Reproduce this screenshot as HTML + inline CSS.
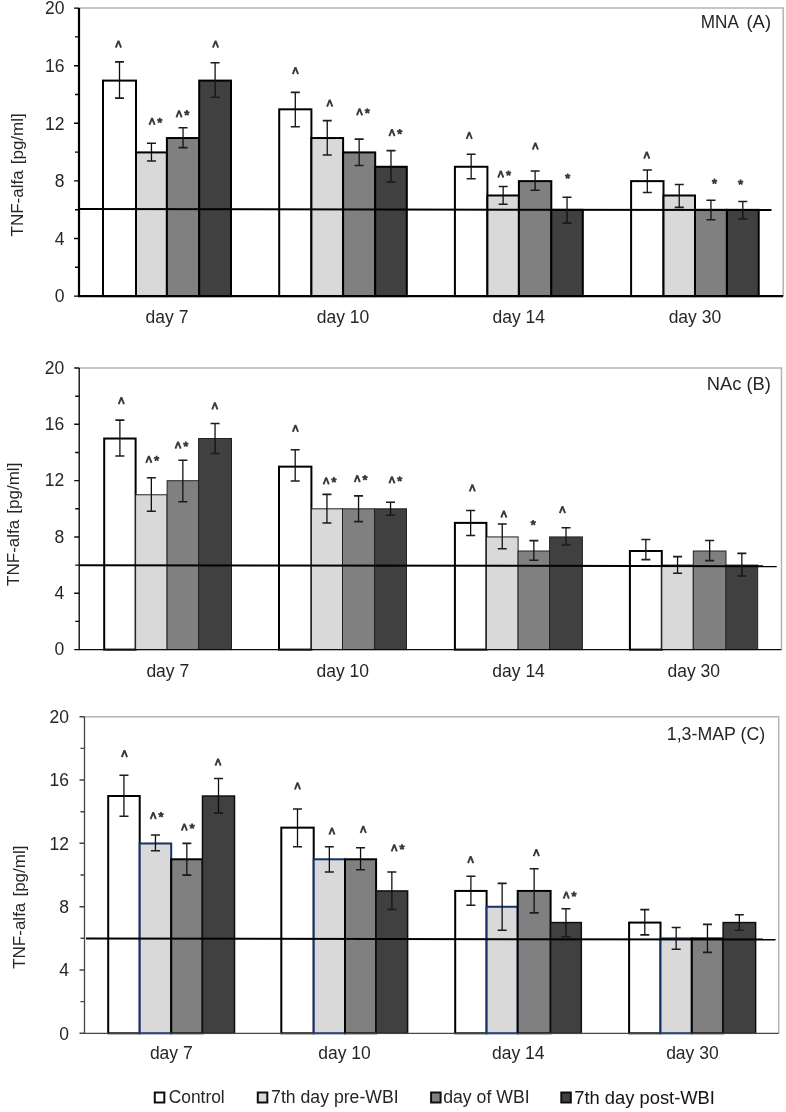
<!DOCTYPE html>
<html><head><meta charset="utf-8"><title>TNF-alfa chart</title>
<style>
html,body{margin:0;padding:0;background:#fff;}
body{width:786px;height:1112px;overflow:hidden;}
svg{display:block;}
.t{font-family:"Liberation Sans", sans-serif;font-size:17.5px;fill:#262626;}
</style></head><body>
<svg width="786" height="1112" viewBox="0 0 786 1112">
<defs><filter id="bl" x="0" y="0" width="100%" height="100%"><feGaussianBlur stdDeviation="0.4"/></filter></defs>
<rect width="786" height="1112" fill="#fff"/>
<g filter="url(#bl)">
<path d="M79.0 8.1H783.2V296.1" fill="none" stroke="#b4b4b4" stroke-width="1.5"/>
<rect x="103.00" y="80.60" width="33.00" height="215.50" fill="#ffffff" stroke="#000" stroke-width="2"/>
<rect x="136.00" y="152.41" width="30.90" height="143.70" fill="#d9d9d9" stroke="#000" stroke-width="2"/>
<rect x="166.90" y="138.04" width="32.30" height="158.06" fill="#808080" stroke="#000" stroke-width="2"/>
<rect x="199.20" y="80.60" width="31.80" height="215.50" fill="#404040" stroke="#000" stroke-width="2"/>
<rect x="279.20" y="109.32" width="32.20" height="186.78" fill="#ffffff" stroke="#000" stroke-width="2"/>
<rect x="311.40" y="138.04" width="31.70" height="158.06" fill="#d9d9d9" stroke="#000" stroke-width="2"/>
<rect x="343.10" y="152.41" width="32.10" height="143.70" fill="#808080" stroke="#000" stroke-width="2"/>
<rect x="375.20" y="166.77" width="31.60" height="129.33" fill="#404040" stroke="#000" stroke-width="2"/>
<rect x="454.90" y="166.77" width="32.50" height="129.33" fill="#ffffff" stroke="#000" stroke-width="2"/>
<rect x="487.40" y="195.49" width="31.50" height="100.61" fill="#d9d9d9" stroke="#000" stroke-width="2"/>
<rect x="518.90" y="181.13" width="32.40" height="114.97" fill="#808080" stroke="#000" stroke-width="2"/>
<rect x="551.30" y="209.85" width="31.50" height="86.25" fill="#404040" stroke="#000" stroke-width="2"/>
<rect x="631.10" y="181.13" width="32.40" height="114.97" fill="#ffffff" stroke="#000" stroke-width="2"/>
<rect x="663.50" y="195.49" width="31.50" height="100.61" fill="#d9d9d9" stroke="#000" stroke-width="2"/>
<rect x="695.00" y="209.85" width="31.90" height="86.25" fill="#808080" stroke="#000" stroke-width="2"/>
<rect x="726.90" y="209.85" width="31.80" height="86.25" fill="#404040" stroke="#000" stroke-width="2"/>
<path d="M79.0 209.10L771.5 210.10" stroke="#000" stroke-width="2"/>
<path d="M119.50 61.9V98.1" stroke="#111" stroke-width="1.3" fill="none"/><path d="M115.00 61.9H124.00M115.00 98.1H124.00" stroke="#1a1a1a" stroke-width="1.6" fill="none"/>
<path d="M151.45 143.3V161.0" stroke="#111" stroke-width="1.3" fill="none"/><path d="M146.95 143.3H155.95M146.95 161.0H155.95" stroke="#1a1a1a" stroke-width="1.6" fill="none"/>
<path d="M183.05 127.7V147.6" stroke="#111" stroke-width="1.3" fill="none"/><path d="M178.55 127.7H187.55M178.55 147.6H187.55" stroke="#1a1a1a" stroke-width="1.6" fill="none"/>
<path d="M215.10 62.8V97.2" stroke="#111" stroke-width="1.3" fill="none"/><path d="M210.60 62.8H219.60M210.60 97.2H219.60" stroke="#1a1a1a" stroke-width="1.6" fill="none"/>
<path d="M295.30 92.4V126.7" stroke="#111" stroke-width="1.3" fill="none"/><path d="M290.80 92.4H299.80M290.80 126.7H299.80" stroke="#1a1a1a" stroke-width="1.6" fill="none"/>
<path d="M327.25 120.6V155.0" stroke="#111" stroke-width="1.3" fill="none"/><path d="M322.75 120.6H331.75M322.75 155.0H331.75" stroke="#1a1a1a" stroke-width="1.6" fill="none"/>
<path d="M359.15 139.1V165.5" stroke="#111" stroke-width="1.3" fill="none"/><path d="M354.65 139.1H363.65M354.65 165.5H363.65" stroke="#1a1a1a" stroke-width="1.6" fill="none"/>
<path d="M391.00 150.6V182.0" stroke="#111" stroke-width="1.3" fill="none"/><path d="M386.50 150.6H395.50M386.50 182.0H395.50" stroke="#1a1a1a" stroke-width="1.6" fill="none"/>
<path d="M471.15 154.2V178.8" stroke="#111" stroke-width="1.3" fill="none"/><path d="M466.65 154.2H475.65M466.65 178.8H475.65" stroke="#1a1a1a" stroke-width="1.6" fill="none"/>
<path d="M503.15 186.5V204.2" stroke="#111" stroke-width="1.3" fill="none"/><path d="M498.65 186.5H507.65M498.65 204.2H507.65" stroke="#1a1a1a" stroke-width="1.6" fill="none"/>
<path d="M535.10 171.0V190.3" stroke="#111" stroke-width="1.3" fill="none"/><path d="M530.60 171.0H539.60M530.60 190.3H539.60" stroke="#1a1a1a" stroke-width="1.6" fill="none"/>
<path d="M567.05 197.3V223.1" stroke="#111" stroke-width="1.3" fill="none"/><path d="M562.55 197.3H571.55M562.55 223.1H571.55" stroke="#1a1a1a" stroke-width="1.6" fill="none"/>
<path d="M647.30 170.0V192.5" stroke="#111" stroke-width="1.3" fill="none"/><path d="M642.80 170.0H651.80M642.80 192.5H651.80" stroke="#1a1a1a" stroke-width="1.6" fill="none"/>
<path d="M679.25 184.5V207.4" stroke="#111" stroke-width="1.3" fill="none"/><path d="M674.75 184.5H683.75M674.75 207.4H683.75" stroke="#1a1a1a" stroke-width="1.6" fill="none"/>
<path d="M710.95 200.2V219.8" stroke="#111" stroke-width="1.3" fill="none"/><path d="M706.45 200.2H715.45M706.45 219.8H715.45" stroke="#1a1a1a" stroke-width="1.6" fill="none"/>
<path d="M742.80 201.5V218.9" stroke="#111" stroke-width="1.3" fill="none"/><path d="M738.30 201.5H747.30M738.30 218.9H747.30" stroke="#1a1a1a" stroke-width="1.6" fill="none"/>
<path d="M79.0 8.1V296.1H783.2" fill="none" stroke="#000" stroke-width="2.2"/>
<path d="M74.0 296.1H79.0M75.0 267.3H79.0M74.0 238.5H79.0M75.0 209.7H79.0M74.0 180.9H79.0M75.0 152.1H79.0M74.0 123.3H79.0M75.0 94.5H79.0M74.0 65.7H79.0M75.0 36.9H79.0M74.0 8.1H79.0" stroke="#000" stroke-width="1.4"/>
<text x="64.4" y="302.4" text-anchor="end" class="t">0</text>
<text x="64.4" y="244.8" text-anchor="end" class="t">4</text>
<text x="64.4" y="187.2" text-anchor="end" class="t">8</text>
<text x="64.4" y="129.6" text-anchor="end" class="t">12</text>
<text x="64.4" y="72.0" text-anchor="end" class="t">16</text>
<text x="64.4" y="14.4" text-anchor="end" class="t">20</text>
<text x="167.0" y="323.4" text-anchor="middle" class="t">day 7</text>
<text x="343.0" y="323.4" text-anchor="middle" class="t">day 10</text>
<text x="518.8" y="323.4" text-anchor="middle" class="t">day 14</text>
<text x="694.9" y="323.4" text-anchor="middle" class="t">day 30</text>
<text id="tA1" x="700.80" textLength="38.06" lengthAdjust="spacingAndGlyphs" y="27.7" class="t" style="font-size:17.5px">MNA</text>
<text id="tA2" x="746.50" textLength="24.50" lengthAdjust="spacingAndGlyphs" y="27.7" class="t" style="font-size:18px">(A)</text>
<text transform="translate(23.4 236.5) rotate(-90)" class="t" style="font-size:17px">TNF-alfa <tspan dx="1.4">[pg/ml]</tspan></text>
<path d="M115.80 47.60L118.45 40.80L121.10 47.60" fill="none" stroke="#3a3a3a" stroke-width="1.9" stroke-linejoin="bevel"/>
<path d="M149.40 124.90L152.05 118.10L154.70 124.90" fill="none" stroke="#3a3a3a" stroke-width="1.9" stroke-linejoin="bevel"/>
<path d="M159.80 120.50L159.80 117.70M159.80 120.50L162.46 119.63M159.80 120.50L161.45 122.77M159.80 120.50L158.15 122.77M159.80 120.50L157.14 119.63" stroke="#3a3a3a" stroke-width="1.8" stroke-linecap="butt" fill="none"/>
<path d="M176.40 117.30L179.05 110.50L181.70 117.30" fill="none" stroke="#3a3a3a" stroke-width="1.9" stroke-linejoin="bevel"/>
<path d="M186.80 112.90L186.80 110.10M186.80 112.90L189.46 112.03M186.80 112.90L188.45 115.17M186.80 112.90L185.15 115.17M186.80 112.90L184.14 112.03" stroke="#3a3a3a" stroke-width="1.8" stroke-linecap="butt" fill="none"/>
<path d="M212.90 47.60L215.55 40.80L218.20 47.60" fill="none" stroke="#3a3a3a" stroke-width="1.9" stroke-linejoin="bevel"/>
<path d="M292.80 74.20L295.45 67.40L298.10 74.20" fill="none" stroke="#3a3a3a" stroke-width="1.9" stroke-linejoin="bevel"/>
<path d="M327.10 106.60L329.75 99.80L332.40 106.60" fill="none" stroke="#3a3a3a" stroke-width="1.9" stroke-linejoin="bevel"/>
<path d="M356.90 115.40L359.55 108.60L362.20 115.40" fill="none" stroke="#3a3a3a" stroke-width="1.9" stroke-linejoin="bevel"/>
<path d="M367.30 111.00L367.30 108.20M367.30 111.00L369.96 110.13M367.30 111.00L368.95 113.27M367.30 111.00L365.65 113.27M367.30 111.00L364.64 110.13" stroke="#3a3a3a" stroke-width="1.8" stroke-linecap="butt" fill="none"/>
<path d="M389.30 136.20L391.95 129.40L394.60 136.20" fill="none" stroke="#3a3a3a" stroke-width="1.9" stroke-linejoin="bevel"/>
<path d="M399.70 131.80L399.70 129.00M399.70 131.80L402.36 130.93M399.70 131.80L401.35 134.07M399.70 131.80L398.05 134.07M399.70 131.80L397.04 130.93" stroke="#3a3a3a" stroke-width="1.8" stroke-linecap="butt" fill="none"/>
<path d="M466.60 139.00L469.25 132.20L471.90 139.00" fill="none" stroke="#3a3a3a" stroke-width="1.9" stroke-linejoin="bevel"/>
<path d="M498.10 177.60L500.75 170.80L503.40 177.60" fill="none" stroke="#3a3a3a" stroke-width="1.9" stroke-linejoin="bevel"/>
<path d="M508.50 173.20L508.50 170.40M508.50 173.20L511.16 172.33M508.50 173.20L510.15 175.47M508.50 173.20L506.85 175.47M508.50 173.20L505.84 172.33" stroke="#3a3a3a" stroke-width="1.8" stroke-linecap="butt" fill="none"/>
<path d="M532.70 149.60L535.35 142.80L538.00 149.60" fill="none" stroke="#3a3a3a" stroke-width="1.9" stroke-linejoin="bevel"/>
<path d="M567.70 176.20L567.70 173.40M567.70 176.20L570.36 175.33M567.70 176.20L569.35 178.47M567.70 176.20L566.05 178.47M567.70 176.20L565.04 175.33" stroke="#3a3a3a" stroke-width="1.8" stroke-linecap="butt" fill="none"/>
<path d="M644.10 158.60L646.75 151.80L649.40 158.60" fill="none" stroke="#3a3a3a" stroke-width="1.9" stroke-linejoin="bevel"/>
<path d="M714.50 181.40L714.50 178.60M714.50 181.40L717.16 180.53M714.50 181.40L716.15 183.67M714.50 181.40L712.85 183.67M714.50 181.40L711.84 180.53" stroke="#3a3a3a" stroke-width="1.8" stroke-linecap="butt" fill="none"/>
<path d="M740.60 182.20L740.60 179.40M740.60 182.20L743.26 181.33M740.60 182.20L742.25 184.47M740.60 182.20L738.95 184.47M740.60 182.20L737.94 181.33" stroke="#3a3a3a" stroke-width="1.8" stroke-linecap="butt" fill="none"/>
<path d="M79.2 368.0H781.5V649.6" fill="none" stroke="#b4b4b4" stroke-width="1.5"/>
<rect x="104.20" y="438.53" width="31.40" height="211.07" fill="#ffffff" stroke="#000" stroke-width="2"/>
<rect x="135.60" y="494.77" width="31.50" height="154.83" fill="#d9d9d9" stroke="#222" stroke-width="1"/>
<rect x="167.10" y="480.71" width="31.50" height="168.89" fill="#808080" stroke="#222" stroke-width="1"/>
<rect x="198.60" y="438.53" width="32.90" height="211.07" fill="#404040" stroke="#222" stroke-width="1"/>
<rect x="279.00" y="466.65" width="32.40" height="182.95" fill="#ffffff" stroke="#000" stroke-width="2"/>
<rect x="311.40" y="508.82" width="31.10" height="140.78" fill="#d9d9d9" stroke="#222" stroke-width="1"/>
<rect x="342.50" y="508.82" width="32.10" height="140.78" fill="#808080" stroke="#222" stroke-width="1"/>
<rect x="374.60" y="508.82" width="31.90" height="140.78" fill="#404040" stroke="#222" stroke-width="1"/>
<rect x="454.90" y="522.88" width="31.50" height="126.72" fill="#ffffff" stroke="#000" stroke-width="2"/>
<rect x="486.40" y="536.94" width="31.70" height="112.66" fill="#d9d9d9" stroke="#222" stroke-width="1"/>
<rect x="518.10" y="551.00" width="31.50" height="98.60" fill="#808080" stroke="#222" stroke-width="1"/>
<rect x="549.60" y="536.94" width="32.80" height="112.66" fill="#404040" stroke="#222" stroke-width="1"/>
<rect x="629.90" y="551.00" width="31.90" height="98.60" fill="#ffffff" stroke="#000" stroke-width="2"/>
<rect x="661.80" y="565.06" width="31.50" height="84.54" fill="#d9d9d9" stroke="#222" stroke-width="1"/>
<rect x="693.30" y="551.00" width="32.70" height="98.60" fill="#808080" stroke="#222" stroke-width="1"/>
<rect x="726.00" y="565.06" width="31.70" height="84.54" fill="#404040" stroke="#222" stroke-width="1"/>
<path d="M79.2 565.30L776.7 566.20" stroke="#000" stroke-width="2"/>
<path d="M119.90 420.1V456.0" stroke="#111" stroke-width="1.3" fill="none"/><path d="M115.40 420.1H124.40M115.40 456.0H124.40" stroke="#1a1a1a" stroke-width="1.6" fill="none"/>
<path d="M151.35 477.7V511.3" stroke="#111" stroke-width="1.3" fill="none"/><path d="M146.85 477.7H155.85M146.85 511.3H155.85" stroke="#1a1a1a" stroke-width="1.6" fill="none"/>
<path d="M182.85 460.2V501.8" stroke="#111" stroke-width="1.3" fill="none"/><path d="M178.35 460.2H187.35M178.35 501.8H187.35" stroke="#1a1a1a" stroke-width="1.6" fill="none"/>
<path d="M215.05 423.5V453.5" stroke="#111" stroke-width="1.3" fill="none"/><path d="M210.55 423.5H219.55M210.55 453.5H219.55" stroke="#1a1a1a" stroke-width="1.6" fill="none"/>
<path d="M295.20 449.7V481.0" stroke="#111" stroke-width="1.3" fill="none"/><path d="M290.70 449.7H299.70M290.70 481.0H299.70" stroke="#1a1a1a" stroke-width="1.6" fill="none"/>
<path d="M326.95 494.4V523.0" stroke="#111" stroke-width="1.3" fill="none"/><path d="M322.45 494.4H331.45M322.45 523.0H331.45" stroke="#1a1a1a" stroke-width="1.6" fill="none"/>
<path d="M358.55 495.9V521.6" stroke="#111" stroke-width="1.3" fill="none"/><path d="M354.05 495.9H363.05M354.05 521.6H363.05" stroke="#1a1a1a" stroke-width="1.6" fill="none"/>
<path d="M390.55 502.2V515.3" stroke="#111" stroke-width="1.3" fill="none"/><path d="M386.05 502.2H395.05M386.05 515.3H395.05" stroke="#1a1a1a" stroke-width="1.6" fill="none"/>
<path d="M470.65 510.5V535.5" stroke="#111" stroke-width="1.3" fill="none"/><path d="M466.15 510.5H475.15M466.15 535.5H475.15" stroke="#1a1a1a" stroke-width="1.6" fill="none"/>
<path d="M502.25 524.0V548.8" stroke="#111" stroke-width="1.3" fill="none"/><path d="M497.75 524.0H506.75M497.75 548.8H506.75" stroke="#1a1a1a" stroke-width="1.6" fill="none"/>
<path d="M533.85 540.6V560.3" stroke="#111" stroke-width="1.3" fill="none"/><path d="M529.35 540.6H538.35M529.35 560.3H538.35" stroke="#1a1a1a" stroke-width="1.6" fill="none"/>
<path d="M566.00 527.8V545.0" stroke="#111" stroke-width="1.3" fill="none"/><path d="M561.50 527.8H570.50M561.50 545.0H570.50" stroke="#1a1a1a" stroke-width="1.6" fill="none"/>
<path d="M645.85 539.5V559.6" stroke="#111" stroke-width="1.3" fill="none"/><path d="M641.35 539.5H650.35M641.35 559.6H650.35" stroke="#1a1a1a" stroke-width="1.6" fill="none"/>
<path d="M677.55 556.6V573.3" stroke="#111" stroke-width="1.3" fill="none"/><path d="M673.05 556.6H682.05M673.05 573.3H682.05" stroke="#1a1a1a" stroke-width="1.6" fill="none"/>
<path d="M709.65 540.5V560.6" stroke="#111" stroke-width="1.3" fill="none"/><path d="M705.15 540.5H714.15M705.15 560.6H714.15" stroke="#1a1a1a" stroke-width="1.6" fill="none"/>
<path d="M741.85 553.4V576.0" stroke="#111" stroke-width="1.3" fill="none"/><path d="M737.35 553.4H746.35M737.35 576.0H746.35" stroke="#1a1a1a" stroke-width="1.6" fill="none"/>
<path d="M79.2 368.0V649.6H781.5" fill="none" stroke="#111" stroke-width="1.4"/>
<path d="M74.2 649.6H79.2M75.2 621.4H79.2M74.2 593.3H79.2M75.2 565.1H79.2M74.2 537.0H79.2M75.2 508.8H79.2M74.2 480.6H79.2M75.2 452.5H79.2M74.2 424.3H79.2M75.2 396.2H79.2M74.2 368.0H79.2" stroke="#111" stroke-width="1.4"/>
<text x="64.3" y="655.2" text-anchor="end" class="t">0</text>
<text x="64.3" y="598.9" text-anchor="end" class="t">4</text>
<text x="64.3" y="542.6" text-anchor="end" class="t">8</text>
<text x="64.3" y="486.2" text-anchor="end" class="t">12</text>
<text x="64.3" y="429.9" text-anchor="end" class="t">16</text>
<text x="64.3" y="373.6" text-anchor="end" class="t">20</text>
<text x="167.8" y="676.9" text-anchor="middle" class="t">day 7</text>
<text x="342.8" y="676.9" text-anchor="middle" class="t">day 10</text>
<text x="518.6" y="676.9" text-anchor="middle" class="t">day 14</text>
<text x="693.8" y="676.9" text-anchor="middle" class="t">day 30</text>
<text id="tB" x="706.70" textLength="64.21" lengthAdjust="spacingAndGlyphs" y="390.0" class="t" style="font-size:17.5px">NAc (B)</text>
<text transform="translate(19.0 585.9) rotate(-90)" class="t" style="font-size:17px">TNF-alfa <tspan dx="1.4">[pg/ml]</tspan></text>
<path d="M118.70 404.20L121.35 397.40L124.00 404.20" fill="none" stroke="#3a3a3a" stroke-width="1.9" stroke-linejoin="bevel"/>
<path d="M146.20 462.90L148.85 456.10L151.50 462.90" fill="none" stroke="#3a3a3a" stroke-width="1.9" stroke-linejoin="bevel"/>
<path d="M156.60 458.50L156.60 455.70M156.60 458.50L159.26 457.63M156.60 458.50L158.25 460.77M156.60 458.50L154.95 460.77M156.60 458.50L153.94 457.63" stroke="#3a3a3a" stroke-width="1.8" stroke-linecap="butt" fill="none"/>
<path d="M175.40 448.60L178.05 441.80L180.70 448.60" fill="none" stroke="#3a3a3a" stroke-width="1.9" stroke-linejoin="bevel"/>
<path d="M185.80 444.20L185.80 441.40M185.80 444.20L188.46 443.33M185.80 444.20L187.45 446.47M185.80 444.20L184.15 446.47M185.80 444.20L183.14 443.33" stroke="#3a3a3a" stroke-width="1.8" stroke-linecap="butt" fill="none"/>
<path d="M212.20 409.50L214.85 402.70L217.50 409.50" fill="none" stroke="#3a3a3a" stroke-width="1.9" stroke-linejoin="bevel"/>
<path d="M292.80 431.90L295.45 425.10L298.10 431.90" fill="none" stroke="#3a3a3a" stroke-width="1.9" stroke-linejoin="bevel"/>
<path d="M323.50 484.30L326.15 477.50L328.80 484.30" fill="none" stroke="#3a3a3a" stroke-width="1.9" stroke-linejoin="bevel"/>
<path d="M333.90 479.90L333.90 477.10M333.90 479.90L336.56 479.03M333.90 479.90L335.55 482.17M333.90 479.90L332.25 482.17M333.90 479.90L331.24 479.03" stroke="#3a3a3a" stroke-width="1.8" stroke-linecap="butt" fill="none"/>
<path d="M354.60 482.10L357.25 475.30L359.90 482.10" fill="none" stroke="#3a3a3a" stroke-width="1.9" stroke-linejoin="bevel"/>
<path d="M365.00 477.70L365.00 474.90M365.00 477.70L367.66 476.83M365.00 477.70L366.65 479.97M365.00 477.70L363.35 479.97M365.00 477.70L362.34 476.83" stroke="#3a3a3a" stroke-width="1.8" stroke-linecap="butt" fill="none"/>
<path d="M389.30 483.40L391.95 476.60L394.60 483.40" fill="none" stroke="#3a3a3a" stroke-width="1.9" stroke-linejoin="bevel"/>
<path d="M399.70 479.00L399.70 476.20M399.70 479.00L402.36 478.13M399.70 479.00L401.35 481.27M399.70 479.00L398.05 481.27M399.70 479.00L397.04 478.13" stroke="#3a3a3a" stroke-width="1.8" stroke-linecap="butt" fill="none"/>
<path d="M469.70 491.50L472.35 484.70L475.00 491.50" fill="none" stroke="#3a3a3a" stroke-width="1.9" stroke-linejoin="bevel"/>
<path d="M501.20 517.60L503.85 510.80L506.50 517.60" fill="none" stroke="#3a3a3a" stroke-width="1.9" stroke-linejoin="bevel"/>
<path d="M533.20 522.80L533.20 520.00M533.20 522.80L535.86 521.93M533.20 522.80L534.85 525.07M533.20 522.80L531.55 525.07M533.20 522.80L530.54 521.93" stroke="#3a3a3a" stroke-width="1.8" stroke-linecap="butt" fill="none"/>
<path d="M559.80 513.20L562.45 506.40L565.10 513.20" fill="none" stroke="#3a3a3a" stroke-width="1.9" stroke-linejoin="bevel"/>
<path d="M84.5 716.7H778.7V1033.3" fill="none" stroke="#b4b4b4" stroke-width="1.5"/>
<rect x="108.20" y="796.01" width="31.50" height="237.29" fill="#ffffff" stroke="#000" stroke-width="2"/>
<rect x="139.70" y="843.47" width="31.50" height="189.83" fill="#d9d9d9" stroke="#13306b" stroke-width="2"/>
<rect x="171.20" y="859.29" width="31.30" height="174.01" fill="#808080" stroke="#000" stroke-width="2"/>
<rect x="202.50" y="796.01" width="32.00" height="237.29" fill="#404040" stroke="#111" stroke-width="1.5"/>
<rect x="281.30" y="827.65" width="32.40" height="205.65" fill="#ffffff" stroke="#000" stroke-width="2"/>
<rect x="313.70" y="859.29" width="31.30" height="174.01" fill="#d9d9d9" stroke="#13306b" stroke-width="2"/>
<rect x="345.00" y="859.29" width="31.10" height="174.01" fill="#808080" stroke="#000" stroke-width="2"/>
<rect x="376.10" y="890.94" width="31.50" height="142.36" fill="#404040" stroke="#111" stroke-width="1.5"/>
<rect x="455.20" y="890.94" width="31.40" height="142.36" fill="#ffffff" stroke="#000" stroke-width="2"/>
<rect x="486.60" y="906.76" width="31.10" height="126.54" fill="#d9d9d9" stroke="#13306b" stroke-width="2"/>
<rect x="517.70" y="890.94" width="32.90" height="142.36" fill="#808080" stroke="#000" stroke-width="2"/>
<rect x="550.60" y="922.58" width="30.70" height="110.72" fill="#404040" stroke="#111" stroke-width="1.5"/>
<rect x="629.10" y="922.58" width="31.40" height="110.72" fill="#ffffff" stroke="#000" stroke-width="2"/>
<rect x="660.50" y="938.40" width="31.30" height="94.90" fill="#d9d9d9" stroke="#13306b" stroke-width="2"/>
<rect x="691.80" y="938.40" width="31.30" height="94.90" fill="#808080" stroke="#000" stroke-width="2"/>
<rect x="723.10" y="922.58" width="32.50" height="110.72" fill="#404040" stroke="#111" stroke-width="1.5"/>
<path d="M86.0 938.50L775.6 939.60" stroke="#000" stroke-width="2"/>
<path d="M123.95 775.3V816.3" stroke="#111" stroke-width="1.3" fill="none"/><path d="M119.45 775.3H128.45M119.45 816.3H128.45" stroke="#1a1a1a" stroke-width="1.6" fill="none"/>
<path d="M155.45 835.0V850.7" stroke="#111" stroke-width="1.3" fill="none"/><path d="M150.95 835.0H159.95M150.95 850.7H159.95" stroke="#1a1a1a" stroke-width="1.6" fill="none"/>
<path d="M186.85 843.4V875.1" stroke="#111" stroke-width="1.3" fill="none"/><path d="M182.35 843.4H191.35M182.35 875.1H191.35" stroke="#1a1a1a" stroke-width="1.6" fill="none"/>
<path d="M218.50 778.5V813.1" stroke="#111" stroke-width="1.3" fill="none"/><path d="M214.00 778.5H223.00M214.00 813.1H223.00" stroke="#1a1a1a" stroke-width="1.6" fill="none"/>
<path d="M297.50 809.0V846.8" stroke="#111" stroke-width="1.3" fill="none"/><path d="M293.00 809.0H302.00M293.00 846.8H302.00" stroke="#1a1a1a" stroke-width="1.6" fill="none"/>
<path d="M329.35 846.8V872.0" stroke="#111" stroke-width="1.3" fill="none"/><path d="M324.85 846.8H333.85M324.85 872.0H333.85" stroke="#1a1a1a" stroke-width="1.6" fill="none"/>
<path d="M360.55 847.7V869.7" stroke="#111" stroke-width="1.3" fill="none"/><path d="M356.05 847.7H365.05M356.05 869.7H365.05" stroke="#1a1a1a" stroke-width="1.6" fill="none"/>
<path d="M391.85 872.0V909.4" stroke="#111" stroke-width="1.3" fill="none"/><path d="M387.35 872.0H396.35M387.35 909.4H396.35" stroke="#1a1a1a" stroke-width="1.6" fill="none"/>
<path d="M470.90 876.3V905.3" stroke="#111" stroke-width="1.3" fill="none"/><path d="M466.40 876.3H475.40M466.40 905.3H475.40" stroke="#1a1a1a" stroke-width="1.6" fill="none"/>
<path d="M502.15 883.4V930.3" stroke="#111" stroke-width="1.3" fill="none"/><path d="M497.65 883.4H506.65M497.65 930.3H506.65" stroke="#1a1a1a" stroke-width="1.6" fill="none"/>
<path d="M534.15 868.7V912.9" stroke="#111" stroke-width="1.3" fill="none"/><path d="M529.65 868.7H538.65M529.65 912.9H538.65" stroke="#1a1a1a" stroke-width="1.6" fill="none"/>
<path d="M565.95 908.7V936.8" stroke="#111" stroke-width="1.3" fill="none"/><path d="M561.45 908.7H570.45M561.45 936.8H570.45" stroke="#1a1a1a" stroke-width="1.6" fill="none"/>
<path d="M644.80 909.6V934.9" stroke="#111" stroke-width="1.3" fill="none"/><path d="M640.30 909.6H649.30M640.30 934.9H649.30" stroke="#1a1a1a" stroke-width="1.6" fill="none"/>
<path d="M676.15 927.5V949.3" stroke="#111" stroke-width="1.3" fill="none"/><path d="M671.65 927.5H680.65M671.65 949.3H680.65" stroke="#1a1a1a" stroke-width="1.6" fill="none"/>
<path d="M707.45 924.4V952.4" stroke="#111" stroke-width="1.3" fill="none"/><path d="M702.95 924.4H711.95M702.95 952.4H711.95" stroke="#1a1a1a" stroke-width="1.6" fill="none"/>
<path d="M739.35 914.8V930.3" stroke="#111" stroke-width="1.3" fill="none"/><path d="M734.85 914.8H743.85M734.85 930.3H743.85" stroke="#1a1a1a" stroke-width="1.6" fill="none"/>
<path d="M84.5 716.7V1033.3H778.7" fill="none" stroke="#444" stroke-width="1.3"/>
<path d="M79.5 1033.3H84.5M80.5 1001.6H84.5M79.5 970.0H84.5M80.5 938.3H84.5M79.5 906.7H84.5M80.5 875.0H84.5M79.5 843.3H84.5M80.5 811.7H84.5M79.5 780.0H84.5M80.5 748.4H84.5M79.5 716.7H84.5" stroke="#444" stroke-width="1.4"/>
<text x="69.0" y="1039.6" text-anchor="end" class="t">0</text>
<text x="69.0" y="976.3" text-anchor="end" class="t">4</text>
<text x="69.0" y="913.0" text-anchor="end" class="t">8</text>
<text x="69.0" y="849.6" text-anchor="end" class="t">12</text>
<text x="69.0" y="786.3" text-anchor="end" class="t">16</text>
<text x="69.0" y="723.0" text-anchor="end" class="t">20</text>
<text x="171.3" y="1059.2" text-anchor="middle" class="t">day 7</text>
<text x="344.5" y="1059.2" text-anchor="middle" class="t">day 10</text>
<text x="518.2" y="1059.2" text-anchor="middle" class="t">day 14</text>
<text x="692.4" y="1059.2" text-anchor="middle" class="t">day 30</text>
<text id="tC" x="666.80" textLength="98.37" lengthAdjust="spacingAndGlyphs" y="739.8" class="t" style="font-size:17.5px">1,3-MAP (C)</text>
<text transform="translate(24.5 968.8) rotate(-90)" class="t" style="font-size:17px">TNF-alfa <tspan dx="1.4">[pg/ml]</tspan></text>
<path d="M121.80 757.10L124.45 750.30L127.10 757.10" fill="none" stroke="#3a3a3a" stroke-width="1.9" stroke-linejoin="bevel"/>
<path d="M150.60 819.10L153.25 812.30L155.90 819.10" fill="none" stroke="#3a3a3a" stroke-width="1.9" stroke-linejoin="bevel"/>
<path d="M161.00 814.70L161.00 811.90M161.00 814.70L163.66 813.83M161.00 814.70L162.65 816.97M161.00 814.70L159.35 816.97M161.00 814.70L158.34 813.83" stroke="#3a3a3a" stroke-width="1.8" stroke-linecap="butt" fill="none"/>
<path d="M181.70 830.60L184.35 823.80L187.00 830.60" fill="none" stroke="#3a3a3a" stroke-width="1.9" stroke-linejoin="bevel"/>
<path d="M192.10 826.20L192.10 823.40M192.10 826.20L194.76 825.33M192.10 826.20L193.75 828.47M192.10 826.20L190.45 828.47M192.10 826.20L189.44 825.33" stroke="#3a3a3a" stroke-width="1.8" stroke-linecap="butt" fill="none"/>
<path d="M215.40 765.60L218.05 758.80L220.70 765.60" fill="none" stroke="#3a3a3a" stroke-width="1.9" stroke-linejoin="bevel"/>
<path d="M294.90 789.50L297.55 782.70L300.20 789.50" fill="none" stroke="#3a3a3a" stroke-width="1.9" stroke-linejoin="bevel"/>
<path d="M329.30 834.70L331.95 827.90L334.60 834.70" fill="none" stroke="#3a3a3a" stroke-width="1.9" stroke-linejoin="bevel"/>
<path d="M360.60 833.00L363.25 826.20L365.90 833.00" fill="none" stroke="#3a3a3a" stroke-width="1.9" stroke-linejoin="bevel"/>
<path d="M391.60 851.50L394.25 844.70L396.90 851.50" fill="none" stroke="#3a3a3a" stroke-width="1.9" stroke-linejoin="bevel"/>
<path d="M402.00 847.10L402.00 844.30M402.00 847.10L404.66 846.23M402.00 847.10L403.65 849.37M402.00 847.10L400.35 849.37M402.00 847.10L399.34 846.23" stroke="#3a3a3a" stroke-width="1.8" stroke-linecap="butt" fill="none"/>
<path d="M468.00 863.20L470.65 856.40L473.30 863.20" fill="none" stroke="#3a3a3a" stroke-width="1.9" stroke-linejoin="bevel"/>
<path d="M533.70 856.20L536.35 849.40L539.00 856.20" fill="none" stroke="#3a3a3a" stroke-width="1.9" stroke-linejoin="bevel"/>
<path d="M563.60 898.70L566.25 891.90L568.90 898.70" fill="none" stroke="#3a3a3a" stroke-width="1.9" stroke-linejoin="bevel"/>
<path d="M574.00 894.30L574.00 891.50M574.00 894.30L576.66 893.43M574.00 894.30L575.65 896.57M574.00 894.30L572.35 896.57M574.00 894.30L571.34 893.43" stroke="#3a3a3a" stroke-width="1.8" stroke-linecap="butt" fill="none"/>
<rect x="154.8" y="1092.5" width="9.5" height="10" fill="#ffffff" stroke="#111" stroke-width="2"/>
<text id="L1" x="168.70" textLength="56.02" lengthAdjust="spacingAndGlyphs" y="1103.0" class="t" style="font-size:17.5px;fill:#262626">Control</text>
<rect x="257.8" y="1092.5" width="9.5" height="10" fill="#d9d9d9" stroke="#111" stroke-width="2"/>
<text id="L2" x="271.10" textLength="127.50" lengthAdjust="spacingAndGlyphs" y="1103.3" class="t" style="font-size:17.5px;fill:#262626">7th day pre-WBI</text>
<rect x="431.1" y="1092.5" width="9.5" height="10" fill="#808080" stroke="#111" stroke-width="2"/>
<text id="L3" x="443.20" textLength="86.44" lengthAdjust="spacingAndGlyphs" y="1103.3" class="t" style="font-size:17.5px;fill:#262626">day of WBI</text>
<rect x="561.3" y="1092.5" width="9.5" height="10" fill="#404040" stroke="#111" stroke-width="2"/>
<text id="L4" x="574.20" textLength="140.73" lengthAdjust="spacingAndGlyphs" y="1104.0" class="t" style="font-size:18.2px;fill:#141414">7th day post-WBI</text>
</g>
</svg>
</body></html>
